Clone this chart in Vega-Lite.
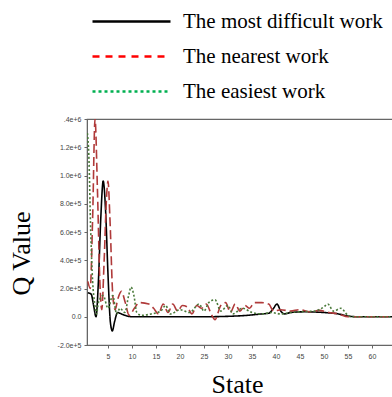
{
  "$schema": "https://vega.github.io/schema/vega-lite/v6.json",
  "width": 308,
  "height": 226,
  "autosize": "none",
  "padding": {"left": 87, "top": 119, "right": 0, "bottom": 52},
  "background": "white",
  "config": {
    "view": {"stroke": "#666666", "strokeWidth": 1.2},
    "axis": {"grid": false, "domainColor": "#666666", "tickColor": "#666666", "labelFont": "Liberation Sans", "labelFontSize": 7, "labelColor": "#444444", "tickSize": 3, "titleFont": "Liberation Serif", "titleFontWeight": "normal", "titleFontSize": 26, "titleColor": "#000000"}
  },
  "data": {"values": [
    {"series": "The most difficult work", "state": 0.8, "q": 170000},
    {"series": "The most difficult work", "state": 1.5, "q": 160000},
    {"series": "The most difficult work", "state": 2.0, "q": 80000},
    {"series": "The most difficult work", "state": 2.5, "q": 0},
    {"series": "The most difficult work", "state": 3.0, "q": 250000},
    {"series": "The most difficult work", "state": 3.5, "q": 700000},
    {"series": "The most difficult work", "state": 4.0, "q": 960000},
    {"series": "The most difficult work", "state": 4.5, "q": 750000},
    {"series": "The most difficult work", "state": 5.0, "q": 300000},
    {"series": "The most difficult work", "state": 5.5, "q": -40000},
    {"series": "The most difficult work", "state": 5.9, "q": -100000},
    {"series": "The most difficult work", "state": 6.4, "q": -30000},
    {"series": "The most difficult work", "state": 7.0, "q": 30000},
    {"series": "The most difficult work", "state": 7.8, "q": 20000},
    {"series": "The most difficult work", "state": 9, "q": 5000},
    {"series": "The most difficult work", "state": 10, "q": 0},
    {"series": "The most difficult work", "state": 15, "q": 0},
    {"series": "The most difficult work", "state": 20, "q": 0},
    {"series": "The most difficult work", "state": 25, "q": 0},
    {"series": "The most difficult work", "state": 30, "q": 3000},
    {"series": "The most difficult work", "state": 34, "q": 10000},
    {"series": "The most difficult work", "state": 37, "q": 20000},
    {"series": "The most difficult work", "state": 38.5, "q": 25000},
    {"series": "The most difficult work", "state": 39.5, "q": 60000},
    {"series": "The most difficult work", "state": 40.2, "q": 90000},
    {"series": "The most difficult work", "state": 41, "q": 40000},
    {"series": "The most difficult work", "state": 41.8, "q": 20000},
    {"series": "The most difficult work", "state": 43, "q": 30000},
    {"series": "The most difficult work", "state": 46, "q": 35000},
    {"series": "The most difficult work", "state": 50, "q": 30000},
    {"series": "The most difficult work", "state": 53, "q": 20000},
    {"series": "The most difficult work", "state": 55, "q": 5000},
    {"series": "The most difficult work", "state": 57, "q": 0},
    {"series": "The most difficult work", "state": 64.8, "q": 0},

    {"series": "The nearest work", "state": 0.8, "q": 250000},
    {"series": "The nearest work", "state": 1.3, "q": 200000},
    {"series": "The nearest work", "state": 1.8, "q": 700000},
    {"series": "The nearest work", "state": 2.3, "q": 1400000},
    {"series": "The nearest work", "state": 2.8, "q": 900000},
    {"series": "The nearest work", "state": 3.3, "q": 250000},
    {"series": "The nearest work", "state": 3.7, "q": 50000},
    {"series": "The nearest work", "state": 4.2, "q": 400000},
    {"series": "The nearest work", "state": 4.7, "q": 850000},
    {"series": "The nearest work", "state": 5.0, "q": 960000},
    {"series": "The nearest work", "state": 5.4, "q": 700000},
    {"series": "The nearest work", "state": 6.0, "q": 150000},
    {"series": "The nearest work", "state": 6.5, "q": 50000},
    {"series": "The nearest work", "state": 7.0, "q": 120000},
    {"series": "The nearest work", "state": 7.8, "q": 180000},
    {"series": "The nearest work", "state": 8.6, "q": 100000},
    {"series": "The nearest work", "state": 9.4, "q": 10000},
    {"series": "The nearest work", "state": 10.5, "q": 60000},
    {"series": "The nearest work", "state": 11.5, "q": 100000},
    {"series": "The nearest work", "state": 13.5, "q": 90000},
    {"series": "The nearest work", "state": 14.5, "q": 60000},
    {"series": "The nearest work", "state": 15.5, "q": 20000},
    {"series": "The nearest work", "state": 16.5, "q": 90000},
    {"series": "The nearest work", "state": 17.5, "q": 30000},
    {"series": "The nearest work", "state": 18.5, "q": 90000},
    {"series": "The nearest work", "state": 19.5, "q": 40000},
    {"series": "The nearest work", "state": 20.5, "q": 80000},
    {"series": "The nearest work", "state": 21.5, "q": 70000},
    {"series": "The nearest work", "state": 22.5, "q": 20000},
    {"series": "The nearest work", "state": 23.5, "q": 80000},
    {"series": "The nearest work", "state": 24.5, "q": 60000},
    {"series": "The nearest work", "state": 25.5, "q": 90000},
    {"series": "The nearest work", "state": 26.5, "q": 20000},
    {"series": "The nearest work", "state": 27.3, "q": -20000},
    {"series": "The nearest work", "state": 28.5, "q": 80000},
    {"series": "The nearest work", "state": 29.5, "q": 100000},
    {"series": "The nearest work", "state": 30.5, "q": 30000},
    {"series": "The nearest work", "state": 31.5, "q": 90000},
    {"series": "The nearest work", "state": 32.5, "q": 40000},
    {"series": "The nearest work", "state": 33.5, "q": 80000},
    {"series": "The nearest work", "state": 34.5, "q": 60000},
    {"series": "The nearest work", "state": 35.5, "q": 100000},
    {"series": "The nearest work", "state": 37, "q": 100000},
    {"series": "The nearest work", "state": 38.5, "q": 90000},
    {"series": "The nearest work", "state": 39.5, "q": 40000},
    {"series": "The nearest work", "state": 41, "q": 50000},
    {"series": "The nearest work", "state": 43, "q": 40000},
    {"series": "The nearest work", "state": 45, "q": 50000},
    {"series": "The nearest work", "state": 47, "q": 35000},
    {"series": "The nearest work", "state": 49, "q": 45000},
    {"series": "The nearest work", "state": 51, "q": 30000},
    {"series": "The nearest work", "state": 53, "q": 20000},
    {"series": "The nearest work", "state": 55, "q": 0},
    {"series": "The nearest work", "state": 64.8, "q": 0},

    {"series": "The easiest work", "state": 0.7, "q": 1300000},
    {"series": "The easiest work", "state": 1.0, "q": 1150000},
    {"series": "The easiest work", "state": 1.4, "q": 600000},
    {"series": "The easiest work", "state": 1.8, "q": 250000},
    {"series": "The easiest work", "state": 2.2, "q": 100000},
    {"series": "The easiest work", "state": 2.6, "q": 20000},
    {"series": "The easiest work", "state": 3.0, "q": 100000},
    {"series": "The easiest work", "state": 4.0, "q": 150000},
    {"series": "The easiest work", "state": 5.0, "q": 60000},
    {"series": "The easiest work", "state": 6.0, "q": 150000},
    {"series": "The easiest work", "state": 6.8, "q": 20000},
    {"series": "The easiest work", "state": 7.5, "q": 60000},
    {"series": "The easiest work", "state": 8.5, "q": 30000},
    {"series": "The easiest work", "state": 9.3, "q": 150000},
    {"series": "The easiest work", "state": 9.8, "q": 210000},
    {"series": "The easiest work", "state": 10.4, "q": 150000},
    {"series": "The easiest work", "state": 11, "q": 30000},
    {"series": "The easiest work", "state": 12, "q": 10000},
    {"series": "The easiest work", "state": 14, "q": 20000},
    {"series": "The easiest work", "state": 16, "q": 40000},
    {"series": "The easiest work", "state": 17, "q": 80000},
    {"series": "The easiest work", "state": 18, "q": 20000},
    {"series": "The easiest work", "state": 20, "q": 50000},
    {"series": "The easiest work", "state": 22, "q": 30000},
    {"series": "The easiest work", "state": 24, "q": 90000},
    {"series": "The easiest work", "state": 25, "q": 40000},
    {"series": "The easiest work", "state": 26, "q": 100000},
    {"series": "The easiest work", "state": 27.3, "q": 120000},
    {"series": "The easiest work", "state": 28.5, "q": 40000},
    {"series": "The easiest work", "state": 30, "q": 80000},
    {"series": "The easiest work", "state": 31, "q": 20000},
    {"series": "The easiest work", "state": 33, "q": 60000},
    {"series": "The easiest work", "state": 35, "q": 30000},
    {"series": "The easiest work", "state": 37, "q": 20000},
    {"series": "The easiest work", "state": 39, "q": 30000},
    {"series": "The easiest work", "state": 41, "q": 20000},
    {"series": "The easiest work", "state": 43, "q": 30000},
    {"series": "The easiest work", "state": 45, "q": 35000},
    {"series": "The easiest work", "state": 48, "q": 40000},
    {"series": "The easiest work", "state": 50, "q": 70000},
    {"series": "The easiest work", "state": 50.8, "q": 90000},
    {"series": "The easiest work", "state": 52, "q": 40000},
    {"series": "The easiest work", "state": 53.5, "q": 60000},
    {"series": "The easiest work", "state": 55, "q": 10000},
    {"series": "The easiest work", "state": 56, "q": 0},
    {"series": "The easiest work", "state": 64.8, "q": 0}
  ]},
  "encoding": {
    "x": {"field": "state", "type": "quantitative",
      "scale": {"domain": [0.625, 64.8], "nice": false, "zero": false},
      "axis": {"values": [5, 10, 15, 20, 25, 30, 35, 40, 45, 50, 55, 60], "labelPadding": 4, "title": "State", "titleX": 150, "titleY": 47, "titleBaseline": "alphabetic", "titleAlign": "center"}},
    "y": {"field": "q", "type": "quantitative",
      "scale": {"domain": [-200000, 1400000], "nice": false, "zero": false},
      "axis": {"values": [-200000, 0, 200000, 400000, 600000, 800000, 1000000, 1200000, 1400000], "labelPadding": 3,
        "labelExpr": "datum.value == 0 ? '0.0' : (datum.value == 1400000 ? '.4e+6' : replace(format(datum.value, '.1e'), '\u2212', '-'))",
        "title": "Q Value", "titleX": -58, "titleY": 134, "titleBaseline": "alphabetic", "titleAlign": "center", "titleAngle": -90}}
  },
  "layer": [
    {
      "mark": {"type": "line", "interpolate": "monotone", "strokeWidth": 1.6, "clip": true},
      "encoding": {
        "color": {"field": "series", "type": "nominal",
          "scale": {"domain": ["The most difficult work", "The nearest work", "The easiest work"], "range": ["#000000", "#b03a3a", "#4a7a3a"]},
          "legend": null},
        "strokeDash": {"field": "series", "type": "nominal",
          "scale": {"domain": ["The most difficult work", "The nearest work", "The easiest work"], "range": [[1, 0], [9, 4], [2, 2]]},
          "legend": null}
      }
    },
    {
      "transform": [{"filter": "datum.q > 99999999"}],
      "mark": {"type": "line", "strokeWidth": 2.5},
      "encoding": {
        "strokeDash": {"field": "series", "type": "nominal",
          "scale": {"domain": ["The most difficult work", "The nearest work", "The easiest work"], "range": [[1, 0], [7, 6], [3, 3]]},
          "legend": {"orient": "none", "legendX": 34, "legendY": -108, "title": null, "symbolType": "M-4.875,0H4.875", "symbolSize": 256, "symbolStrokeWidth": 2.5, "labelFont": "Liberation Serif", "labelFontSize": 21, "labelColor": "#000000", "labelOffset": 41, "rowPadding": 13, "labelLimit": 0,
            "symbolStrokeColor": {"expr": "datum.value == 'The nearest work' ? '#ff0000' : (datum.value == 'The easiest work' ? '#00b050' : '#000000')"}}}
      }
    }
  ],
  "resolve": {"scale": {"strokeDash": "independent"}}
}
